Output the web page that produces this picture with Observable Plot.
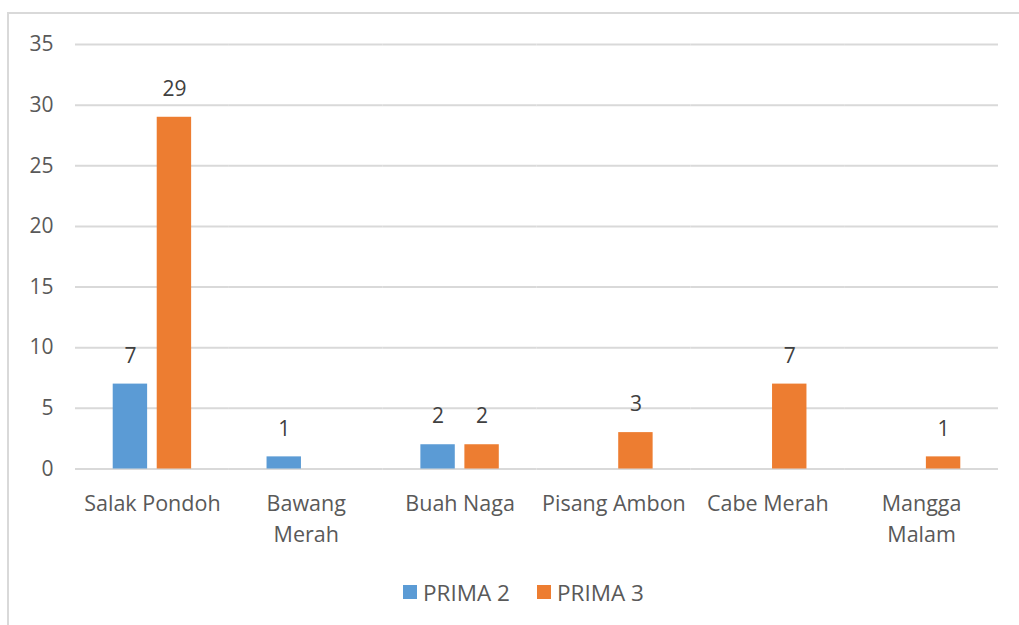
<!DOCTYPE html>
<html>
<head>
<meta charset="utf-8">
<script src="https://cdn.jsdelivr.net/npm/d3@7"></script>
<script src="https://cdn.jsdelivr.net/npm/@observablehq/plot@0.6"></script>
<style>
  html, body { margin: 0; padding: 0; background: #fff; }
  #wrap { position: relative; width: 1019px; height: 625px; overflow: hidden; font-family: "Open Sans", sans-serif; }
  #frame { position: absolute; left: 7px; top: 12px; width: 1030px; height: 640px; border-left: 2px solid #d9d9d9; border-top: 2px solid #d9d9d9; pointer-events: none; }
  .item { position: absolute; top: 577px; height: 30px; display: flex; align-items: center; font-size: 22.5px; color: #595959; }
  .sw { width: 14px; height: 14px; margin-right: 6px; }
</style>
</head>
<body>
<div id="wrap">
  <div id="chart"></div>
  <div id="legend"></div>
  <div id="frame"></div>
</div>
<script>
const categories = ["Salak Pondoh", "Bawang Merah", "Buah Naga", "Pisang Ambon", "Cabe Merah", "Mangga Malam"];
const tickLabels = ["Salak Pondoh", "Bawang\nMerah", "Buah Naga", "Pisang Ambon", "Cabe Merah", "Mangga\nMalam"];
const series = ["PRIMA 2", "PRIMA 3"];
const prima2 = [7, 1, 2, 0, 0, 0];
const prima3 = [29, 0, 2, 3, 7, 1];
const colors = ["#5B9BD5", "#ED7D31"];
const yTicks = [0, 5, 10, 15, 20, 25, 30, 35];

const data = categories.flatMap((c, i) => [
  {cat: c, s: series[0], v: prima2[i]},
  {cat: c, s: series[1], v: prima3[i]}
]).filter(d => d.v > 0);

const chart = Plot.plot({
  width: 1019,
  height: 560,
  marginLeft: 75,
  marginRight: 21,
  marginTop: 44,
  marginBottom: 91.5,
  style: {background: "transparent", fontFamily: "Open Sans, sans-serif"},
  fx: {domain: categories, padding: 0, round: false, label: null, axis: null},
  x: {domain: series, paddingInner: 0.218, paddingOuter: 0.857, round: false, axis: null},
  y: {domain: [0, 35], label: null, axis: null},
  color: {domain: series, range: colors},
  marks: [
    Plot.ruleY(yTicks, {stroke: "#d9d9d9", strokeWidth: 2}),
    Plot.barY(data, {fx: "cat", x: "s", y: "v", fill: "s"}),
    Plot.text(data, {fx: "cat", x: "s", y: "v", text: d => String(d.v), dy: -28, fill: "#404040", fontSize: 21}),
    Plot.axisY(yTicks, {anchor: "left", tickSize: 0, tickPadding: 22, fontSize: 21, fill: "#595959", label: null}),
    Plot.axisFx({anchor: "bottom", tickSize: 0, tickPadding: 20, fontSize: 21.5, fill: "#595959", lineHeight: 1.43, label: null,
      tickFormat: d => tickLabels[categories.indexOf(d)]})
  ]
});
document.getElementById("chart").appendChild(chart);

const legend = document.getElementById("legend");
const legendX = [403, 537];
series.forEach((s, i) => {
  const it = document.createElement("div");
  it.className = "item";
  it.style.left = legendX[i] + "px";
  const sw = document.createElement("div");
  sw.className = "sw";
  sw.style.background = colors[i];
  const t = document.createElement("span");
  t.textContent = s;
  it.appendChild(sw);
  it.appendChild(t);
  legend.appendChild(it);
});
</script>
</body>
</html>
